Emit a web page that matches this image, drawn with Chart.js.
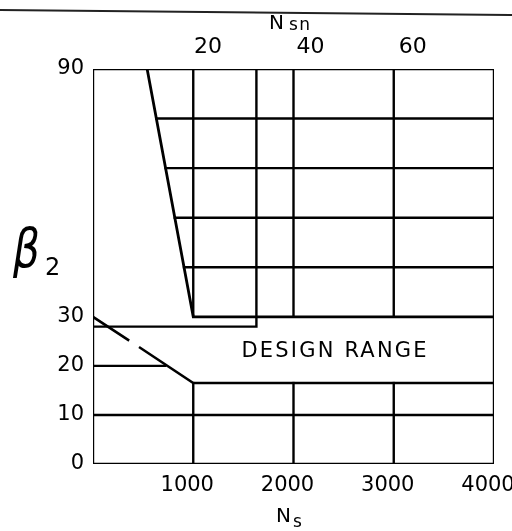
<!DOCTYPE html>
<html>
<head>
<meta charset="utf-8">
<script src="https://cdn.jsdelivr.net/npm/chart.js@4/dist/chart.umd.min.js"></script>
<style>
  html, body { margin: 0; padding: 0; background: #fff; }
  #wrap { position: relative; width: 512px; height: 531px; overflow: hidden; }
  #scanline { position: absolute; left: 0; top: 9px; width: 514px; height: 0; border-top: 2px solid #222; transform-origin: 0 0; transform: rotate(0.55deg); }
  canvas { position: absolute; left: 0; top: 0; }
</style>
</head>
<body>
<div id="wrap">
  <div id="scanline"></div>
  <canvas id="c" width="512" height="531"></canvas>
</div>
<script>
// ---------- tick labels ----------
const nsTicks   = [1000, 2000, 3000, 4000];
const nsnTicks  = [20, 40, 60];
const betaTicks = [0, 10, 20, 30, 90];

// ---------- chart outline (Ns, beta2) ----------
const frameNs   = [0, 4000, 4000, 0, 0];
const frameBeta = [0, 0, 90, 90, 0];

// steep upper limit line and its floor at beta2 = 30
const upperLimitNs   = [540, 1000, 4000];
const upperLimitBeta = [90, 30, 30];

// horizontal rows of the upper grid, starting on the steep line
const upperRowBeta    = [78, 66, 54, 42];
const upperRowStartNs = [632, 724, 816, 908];
const upperColNs      = [1000, 2000, 3000];

// upper edge of the design range
const designEdgeNs   = [0, 1630, 1630];
const designEdgeBeta = [28, 28, 90];

// lower limit (broken near the start) and its floor
const lowerLimitNs   = [0, 350, 410, 470, 1000, 4000];
const lowerLimitBeta = [30, 25.3, null, 23.7, 16.5, 16.5];

// rows and columns of the lower grid
const lowerRowBeta  = [10, 20];
const lowerRowEndNs = [4000, 720];
const lowerColNs    = [1000, 2000, 3000];
const lowerColTop   = [16.5, 16.5, 16.5];

// annotation
const designLabel = 'DESIGN RANGE';
const designLabelNs = 2405;
const designLabelBeta = 22.9;

// ---------- broken beta scale: 0-30 and 30-90 on separate spans ----------
const BREAK = 30, YMAX = 90, LOWFRAC = 0.3726;
const LinScale = Chart.LinearScale || Chart.registry.getScale('linear');
class BrokenBetaScale extends LinScale {
  getPixelForValue(v) {
    if (v === null || v === undefined || isNaN(v)) return NaN;
    const d = v <= BREAK ? (v / BREAK) * LOWFRAC
                         : LOWFRAC + (v - BREAK) / (YMAX - BREAK) * (1 - LOWFRAC);
    return this.getPixelForDecimal(d);
  }
  getValueForPixel(p) {
    const d = this.getDecimalForPixel(p);
    return d <= LOWFRAC ? d / LOWFRAC * BREAK
                        : BREAK + (d - LOWFRAC) / (1 - LOWFRAC) * (YMAX - BREAK);
  }
}
BrokenBetaScale.id = 'brokenBeta';
BrokenBetaScale.defaults = LinScale.defaults;
Chart.register(BrokenBetaScale);

// ---------- datasets ----------
function pts(xs, ys) { return xs.map((x, i) => ({ x: x, y: ys[i] })); }
const datasets = [];
function addLine(data, w) {
  datasets.push({ data: data, borderColor: '#000', borderWidth: w || 2.4, pointRadius: 0,
                  fill: false, tension: 0, spanGaps: false, showLine: true,
                  borderCapStyle: 'square' });
}
addLine(pts(frameNs, frameBeta), 2.4);
addLine(pts(upperLimitNs, upperLimitBeta), 2.8);
upperRowBeta.forEach((b, i) => addLine(pts([upperRowStartNs[i], 4000], [b, b])));
upperColNs.forEach(n => addLine(pts([n, n], [30, 90])));
addLine(pts(designEdgeNs, designEdgeBeta));
addLine(pts(lowerLimitNs, lowerLimitBeta), 2.6);
lowerRowBeta.forEach((b, i) => addLine(pts([0, lowerRowEndNs[i]], [b, b])));
lowerColNs.forEach((n, i) => addLine(pts([n, n], [0, lowerColTop[i]])));

// ---------- text plugin ----------
const textPlugin = {
  id: 'texts',
  afterDraw(chart) {
    const ctx = chart.ctx, ca = chart.chartArea;
    const xs = chart.scales.x, ys = chart.scales.y;
    ctx.save();
    ctx.fillStyle = '#000';
    ctx.textAlign = 'center';
    ctx.textBaseline = 'middle';
    ctx.font = '21px "DejaVu Sans"';
    try { ctx.letterSpacing = '2.2px'; } catch (e) {}
    ctx.fillText(designLabel, xs.getPixelForValue(designLabelNs) + 1, ys.getPixelForValue(designLabelBeta));
    try { ctx.letterSpacing = '0px'; } catch (e) {}

    ctx.textAlign = 'left';
    ctx.textBaseline = 'alphabetic';
    // top axis title: N sn
    ctx.font = '20px "DejaVu Sans"';
    ctx.fillText('N', ca.left + 176, 29);
    ctx.font = '17px "DejaVu Sans"';
    try { ctx.letterSpacing = '1.5px'; } catch (e) {}
    ctx.fillText('sn', ca.left + 196, 30);
    try { ctx.letterSpacing = '0px'; } catch (e) {}
    // bottom axis title: N s
    ctx.font = '20px "DejaVu Sans"';
    ctx.fillText('N', ca.left + 183, ca.bottom + 58);
    ctx.font = '17px "DejaVu Sans"';
    ctx.fillText('s', ca.left + 200, ca.bottom + 63);
    // left axis title: beta 2
    ctx.save();
    ctx.translate(13, 267);
    ctx.scale(0.78, 1);
    ctx.font = 'italic 54px "DejaVu Sans"';
    ctx.fillText('\u03B2', 0, 0);
    ctx.restore();
    ctx.font = '24px "DejaVu Sans"';
    ctx.fillText('2', 45, 275);
    ctx.restore();
  }
};

function fixTicks(list) { return s => { s.ticks = list.map(v => ({ value: v })); }; }
function noPad(size, key) {
  return s => { s[key] = size; s.paddingLeft = 0; s.paddingRight = 0; s.paddingTop = 0; s.paddingBottom = 0; };
}
const plain = v => String(v);

new Chart(document.getElementById('c'), {
  type: 'scatter',
  data: { datasets: datasets },
  options: {
    responsive: false,
    animation: false,
    events: [],
    layout: { padding: { left: 0, right: 18, top: 0, bottom: 0 } },
    plugins: { legend: { display: false }, tooltip: { enabled: false } },
    scales: {
      x: {
        type: 'linear', position: 'bottom', min: 0, max: 4000,
        afterBuildTicks: fixTicks(nsTicks),
        afterFit: noPad(67, 'height'),
        grid: { display: false, drawTicks: false }, border: { display: false },
        ticks: { color: '#000', font: { family: 'DejaVu Sans', size: 21 }, padding: 9,
                 labelOffset: -6, maxRotation: 0, autoSkip: false, callback: plain }
      },
      xTop: {
        type: 'linear', position: 'top', min: -2.5, max: 75.9,
        afterBuildTicks: fixTicks(nsnTicks),
        afterFit: noPad(69, 'height'),
        grid: { display: false, drawTicks: false }, border: { display: false },
        ticks: { color: '#000', font: { family: 'DejaVu Sans', size: 22 }, padding: 9,
                 maxRotation: 0, autoSkip: false, callback: plain }
      },
      y: {
        type: 'brokenBeta', position: 'left', min: 0, max: 90,
        afterBuildTicks: fixTicks(betaTicks),
        afterFit: noPad(93, 'width'),
        grid: { display: false, drawTicks: false }, border: { display: false },
        ticks: { color: '#000', font: { family: 'DejaVu Sans', size: 21 }, padding: 9,
                 autoSkip: false, callback: plain }
      }
    }
  },
  plugins: [textPlugin]
});
</script>
</body>
</html>
